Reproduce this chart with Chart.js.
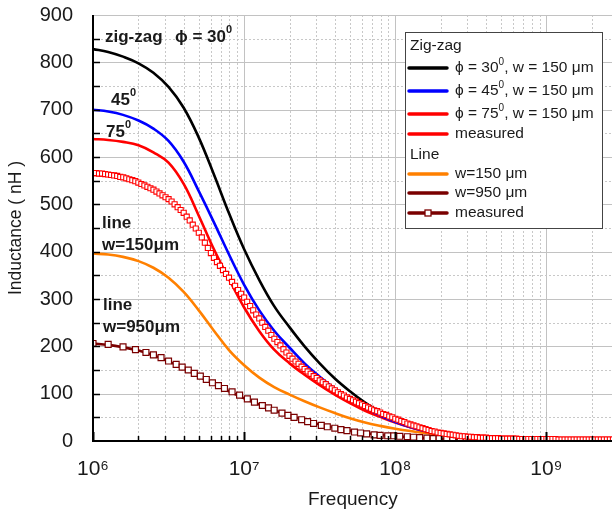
<!DOCTYPE html>
<html><head><meta charset="utf-8">
<script src="https://cdn.jsdelivr.net/npm/chart.js@4.4.1/dist/chart.umd.min.js"></script>
<style>html,body{margin:0;padding:0;background:#fff;overflow:hidden}#wrap{width:612px;height:516px;position:relative;overflow:hidden}</style>
</head><body><div id="wrap"><canvas id="c" width="618" height="516"></canvas></div>
<script>
// ---------- data (frequencies in MHz, inductance in nH) ----------
const lineFreqMHz = [1,1.26,1.58,2,2.51,3.16,3.98,5.01,6.31,7.94,10,12.6,15.8,20,25.1,31.6,39.8,50.1,63.1,79.4,100,126,158,200,251,398,631,1000,1580,2740];
const zig30 = [828,822,812,798,778,748,704,641,563,481,405,340,285,240,200,164,132,105,81,61,45,33,24,17,12,5,2,1,0,0];
const zig45 = [700,696,689,677,660,634,590,528,462,394,330,276,233,197,164,136,111,89,70,54,40,29,21,15,10,4,2,1,0,0];
const zig75 = [638,636,632,625,610,588,543,476,405,342,282,232,193,164,140,118,98,80,64,51,39,29,21,15,10,5,2,1,0,0];
const line150 = [396,394,389,380,366,345,315,276,233,192,160,134,114,98,84,71,59,48,39,32,26,21,17,13,10,6,3,2,1,0];
const line950 = [206,203,198,191,181,168,154,137,120,105,90,77,65,54,44,35,28,22,17,13,10,8,6,4,3,2,1,0,0,0];

const zigMeasFreqMHz = [
 1.000,1.047,1.096,1.148,1.202,1.259,1.318,1.380,1.445,1.514,1.585,1.660,1.738,1.820,1.905,1.995,2.089,2.188,2.291,2.399,2.512,2.630,2.754,2.884,3.020,3.162,3.311,3.467,3.631,3.802,3.981,4.169,4.365,4.571,4.786,5.012,5.248,5.495,5.754,6.026,6.310,6.607,6.918,7.244,7.586,7.943,8.318,8.710,9.120,9.550,
 10.00,10.47,10.96,11.48,12.02,12.59,13.18,13.80,14.45,15.14,15.85,16.60,17.38,18.20,19.05,19.95,20.89,21.88,22.91,23.99,25.12,26.30,27.54,28.84,30.20,31.62,33.11,34.67,36.31,38.02,39.81,41.69,43.65,45.71,47.86,50.12,52.48,54.95,57.54,60.26,63.10,66.07,69.18,72.44,75.86,79.43,83.18,87.10,91.20,95.50,
 100.0,104.7,109.6,114.8,120.2,125.9,131.8,138.0,144.5,151.4,158.5,166.0,173.8,182.0,190.5,199.5,208.9,218.8,229.1,239.9,251.2,263.0,275.4,288.4,302.0,316.2,331.1,346.7,363.1,380.2,398.1,416.9,436.5,457.1,478.6,501.2,524.8,549.5,575.4,602.6,631.0,660.7,691.8,724.4,758.6,794.3,831.8,871.0,912.0,955.0,
 1000,1047,1096,1148,1202,1259,1318,1380,1445,1514,1585,1660,1738,1820,1905,1995,2089,2188,2291,2399,2512,2630,2754];
const zigMeas = [
 566,566,565,565,564,563,562,561,560,558,557,555,553,551,549,546,543,540,537,534,531,527,523,519,515,511,506,500,494,488,482,474,466,457,449,440,430,419,408,397,387,378,370,361,353,345,336,328,319,311,
 303,294,285,276,267,259,250,241,233,224,216,209,202,194,187,180,174,168,163,157,152,147,142,137,133,128,124,120,115,111,107,103,99,96,92,89,86,83,80,77,74,71,68,65,63,60,57,55,52,50,
 47,45,42,40,37,35,33,31,29,27,25,23,21,20,18,17,16,15,14,13,12,11,10,10,9,9,8,8,7,7,7,6,6,6,6,5,5,5,5,5,5,4,4,4,4,4,4,4,4,4,
 4,4,4,4,3,3,3,3,3,3,3,3,3,3,3,3,3,3,3,3,3,3,3];

const lineMeasFreqMHz = [1.00,1.26,1.58,1.91,2.24,2.51,2.82,3.16,3.55,3.89,4.27,4.68,5.13,5.62,6.17,6.76,7.41,8.32,9.33,10.5,11.7,13.2,14.5,15.8,17.8,19.5,21.4,24.0,26.3,28.8,32.4,35.5,39.8,43.7,47.9,53.7,58.9,64.6,72.4,79.4,89.1,97.7,107,120,132,145,162,178,195,219,240,269,295];
const lineMeas = [206,204,199,193,187,182,176,169,162,156,150,143,137,130,123,117,111,104,97,89,82,75,70,65,59,54,50,45,41,37,33,30,27,24,22,19,17,15,13,12,11,11,10,9,8,7,6,5,5,4,4,3,3];

const xTickLabels = {6:'10\u2076',7:'10\u2077',8:'10\u2078',9:'10\u2079'};
const xMin = 1e6, xMax = 2.74e9, yMin = 0, yMax = 900, yStep = 100;

// ---------- build ----------
const FONT = "'Liberation Sans', Arial, Helvetica, sans-serif";
Chart.defaults.font.family = FONT;
const pts = (fr, vals) => fr.map((f, i) => ({x: f * 1e6, y: vals[i]}));
const lineDs = (label, vals, color, order) => ({label, data: pts(lineFreqMHz, vals), borderColor: color, backgroundColor: color,
  borderWidth: 2.6, pointRadius: 0, tension: 0.4, fill: false, order});

const datasets = [
  {label: 'measured zig-zag', data: pts(zigMeasFreqMHz, zigMeas), showLine: false, pointStyle: 'rect', pointRadius: 3.6,
   borderColor: '#ff0000', backgroundColor: '#ffffff', pointBorderWidth: 1.1, order: 0},
  {label: 'measured line', data: pts(lineMeasFreqMHz, lineMeas), showLine: false, pointStyle: 'rect', pointRadius: 4.2,
   borderColor: '#7a0000', backgroundColor: '#ffffff', pointBorderWidth: 1.2, order: 1},
  lineDs('zig30', zig30, '#000000', 2),
  lineDs('zig45', zig45, '#0000ff', 3),
  lineDs('zig75', zig75, '#ff0000', 4),
  lineDs('w150', line150, '#ff8000', 5),
  lineDs('w950', line950, '#7a0000', 6),
];

function drawSup(ctx, base, sup, x, y, font, supFont, rise) {
  ctx.font = font; ctx.fillText(base, x, y);
  const w = ctx.measureText(base).width;
  ctx.font = supFont; ctx.fillText(sup, x + w, y - rise);
  return x + w + ctx.measureText(sup).width;
}

const gridPlugin = {
  id: 'gridTicks',
  beforeDatasetsDraw(chart) {
    const {ctx, chartArea: a, scales: {x, y}} = chart;
    ctx.save();
    ctx.beginPath(); ctx.rect(a.left, a.top, a.right - a.left, a.bottom - a.top); ctx.clip();
    ctx.lineWidth = 1;
    for (let d = 6; d <= 9; d++) for (let m = 1; m <= 9; m++) {
      const f = m * Math.pow(10, d); if (f > x.max) break;
      const px = Math.round(x.getPixelForValue(f)) + 0.5;
      ctx.setLineDash(m === 1 ? [] : [2, 2]);
      ctx.strokeStyle = m === 1 ? '#c2c2c2' : '#c8c8c8';
      ctx.beginPath(); ctx.moveTo(px, a.top); ctx.lineTo(px, a.bottom); ctx.stroke();
    }
    for (let v = yStep / 2; v <= yMax; v += yStep / 2) {
      const py = Math.round(y.getPixelForValue(v)) + 0.5;
      const major = v % yStep === 0;
      ctx.setLineDash(major ? [] : [2, 2]);
      ctx.strokeStyle = major ? '#c2c2c2' : '#c8c8c8';
      ctx.beginPath(); ctx.moveTo(a.left, py); ctx.lineTo(a.right, py); ctx.stroke();
    }
    ctx.restore();
  },
  afterDatasetsDraw(chart) {
    const {ctx, chartArea: a, scales: {x, y}} = chart;
    ctx.save();
    ctx.strokeStyle = '#000'; ctx.lineWidth = 2; ctx.setLineDash([]);
    ctx.beginPath(); ctx.moveTo(a.left, a.top); ctx.lineTo(a.left, a.bottom); ctx.lineTo(a.right, a.bottom); ctx.stroke();
    ctx.lineWidth = 1.5;
    for (let v = yStep / 2; v < yMax; v += yStep / 2) {
      const py = Math.round(y.getPixelForValue(v)) + 0.5;
      ctx.beginPath(); ctx.moveTo(a.left, py); ctx.lineTo(a.left + 7, py); ctx.stroke();
    }
    for (let d = 6; d <= 9; d++) for (let m = 1; m <= 9; m++) {
      const f = m * Math.pow(10, d); if (f > x.max) break;
      const px = Math.round(x.getPixelForValue(f)) + 0.5;
      ctx.lineWidth = m === 1 ? 2 : 1.5;
      ctx.beginPath(); ctx.moveTo(px, a.bottom); ctx.lineTo(px, a.bottom - (m === 1 ? 9 : 5)); ctx.stroke();
    }
    ctx.restore();
  },
  afterDraw(chart) {
    const ctx = chart.ctx;
    ctx.save();
    ctx.fillStyle = '#1a1a1a'; ctx.textBaseline = 'middle'; ctx.textAlign = 'left';
    // in-plot annotations
    const B = 'bold 17px ' + FONT, BS = 'bold 11px ' + FONT;
    ctx.font = B; ctx.fillText('zig-zag', 105, 37);
    drawSup(ctx, '\u03D5 = 30', '0', 175, 37, B, BS, 7);
    drawSup(ctx, '45', '0', 111, 100, B, BS, 7);
    drawSup(ctx, '75', '0', 106, 132, B, BS, 7);
    ctx.font = B;
    ctx.fillText('line', 102, 223); ctx.fillText('w=150\u03BCm', 102, 245);
    ctx.fillText('line', 103, 305); ctx.fillText('w=950\u03BCm', 103, 327);
    // legend box
    const lx = 405, ly = 32, lw = 197, lh = 196;
    ctx.fillStyle = '#fff'; ctx.fillRect(lx, ly, lw, lh);
    ctx.strokeStyle = '#444'; ctx.lineWidth = 1; ctx.strokeRect(lx + 0.5, ly + 0.5, lw, lh);
    const R = '15.5px ' + FONT, RS = '10px ' + FONT;
    ctx.fillStyle = '#1a1a1a';
    ctx.font = R; ctx.fillText('Zig-zag', 410, 46); ctx.fillText('Line', 410, 155);
    const entries = [
      [68, '#000000', ['\u03D5 = 30', '0', ', w = 150 \u03BCm']],
      [91, '#0000ff', ['\u03D5 = 45', '0', ', w = 150 \u03BCm']],
      [114, '#ff0000', ['\u03D5 = 75', '0', ', w = 150 \u03BCm']],
      [134, '#ff0000', ['measured']],
      [174, '#ff8000', ['w=150 \u03BCm']],
      [193, '#7a0000', ['w=950 \u03BCm']],
      [213, '#7a0000', ['measured'], true],
    ];
    for (const [yy, col, parts, marker] of entries) {
      ctx.strokeStyle = col; ctx.lineWidth = 3.5; ctx.lineCap = 'round';
      ctx.beginPath(); ctx.moveTo(409, yy); ctx.lineTo(447, yy); ctx.stroke();
      if (marker) { ctx.lineWidth = 1.3; ctx.fillStyle = '#fff'; ctx.fillRect(425, yy - 3, 6, 6); ctx.strokeRect(425, yy - 3, 6, 6); }
      ctx.fillStyle = '#1a1a1a';
      if (parts.length === 1) { ctx.font = R; ctx.fillText(parts[0], 455, yy); }
      else { const xe = drawSup(ctx, parts[0], parts[1], 455, yy, R, RS, 6); ctx.font = R; ctx.fillText(parts[2], xe, yy); }
    }
    ctx.restore();
  }
};

new Chart(document.getElementById('c'), {
  type: 'line',
  data: {datasets},
  plugins: [gridPlugin],
  options: {
    responsive: false, animation: false, devicePixelRatio: 1,
    layout: {padding: {left: 0, right: 0, top: 15, bottom: 0}},
    plugins: {legend: {display: false}, tooltip: {enabled: false}},
    scales: {
      x: {type: 'logarithmic', min: xMin, max: xMax,
        grid: {display: false}, border: {display: false},
        ticks: {autoSkip: false, maxRotation: 0, padding: 8, color: '#1a1a1a', font: {size: 21},
          callback: (v) => { const l = Math.log10(v); return Math.abs(l - Math.round(l)) < 1e-9 ? (xTickLabels[Math.round(l)] || '') : ''; }},
        title: {display: true, text: 'Frequency', color: '#1a1a1a', font: {size: 19}, padding: {top: 4, bottom: 5}},
        afterFit: (s) => { s.height = 75; s.paddingLeft = 0; s.paddingRight = 0; }
      },
      y: {type: 'linear', min: yMin, max: yMax,
        grid: {display: false}, border: {display: false},
        ticks: {stepSize: yStep, padding: 12, color: '#1a1a1a', font: {size: 20}},
        title: {display: true, text: 'Inductance ( nH )', color: '#1a1a1a', font: {size: 17.5}, padding: {top: 6, bottom: 4}},
        afterFit: (s) => { s.width = 93; s.paddingTop = 0; s.paddingBottom = 0; }
      }
    }
  }
});
</script></body></html>
